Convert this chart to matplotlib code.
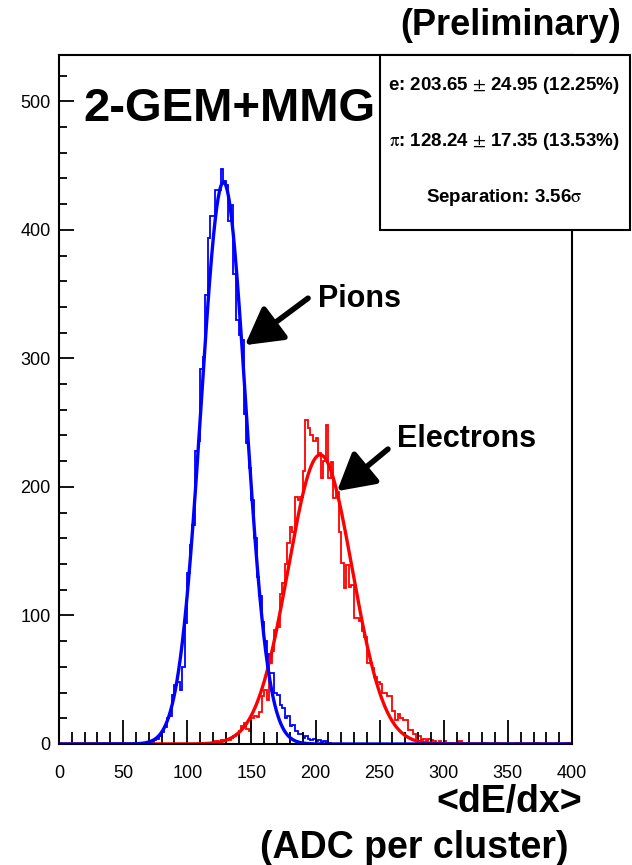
import numpy as np
import matplotlib
matplotlib.use("Agg")
import matplotlib.pyplot as plt
from matplotlib.patches import Rectangle
from matplotlib.ticker import MultipleLocator

plt.rcParams["font.family"] = ["Liberation Sans", "DejaVu Sans"]
plt.rcParams["mathtext.fontset"] = "stix"

# histogram binning (ADC per cluster), 2 units per bin
bin_width = 2
x_max = 400

# pion histogram: counts per bin starting at 60
pion_start = 60
pion_counts = [0, 0, 1, 0, 1, 2, 1, 3, 4, 6, 9, 13, 20, 22, 38, 46, 48, 42, 60, 94,
               133, 155, 170, 228, 236, 292, 301, 349, 394, 411, 411, 431, 431, 447, 438,
               435, 407, 419, 366, 330, 318, 314, 257, 234, 215, 190, 160, 130, 115, 95,
               80, 70, 55, 55, 40, 38, 30, 28, 20, 22, 14, 15, 10, 8, 8, 5, 6, 4, 3, 4,
               2, 3, 1, 2, 0, 1]

# electron histogram: counts per bin starting at 110
electron_start = 110
electron_counts = [0, 1, 0, 1, 1, 1, 2, 1, 3, 2, 4, 3, 5, 6, 8, 10, 14, 16, 12, 10,
                   20, 22, 21, 25, 37, 42, 34, 63, 72, 89, 91, 117, 125, 140, 156, 169, 165,
                   192, 190, 192, 212, 252, 246, 240, 236, 238, 226, 207, 220, 248, 207, 219,
                   191, 196, 165, 141, 121, 139, 122, 124, 98, 98, 96, 88, 83, 63, 63, 59,
                   52, 48, 47, 40, 40, 37, 37, 26, 19, 23, 20, 19, 19, 11, 11, 8, 5, 6, 3,
                   4, 2, 4, 3, 2, 1, 2, 1, 2, 0, 0, 1, 0, 0, 2, 0, 0, 1]
electron_tail_bins = [330, 340, 356, 372, 388, 396]

# gaussian fit results
pion_amp, pion_mean, pion_sigma = 437, 128.24, 17.35
electron_amp, electron_mean, electron_sigma = 225, 203.65, 24.95

stats_lines = [r"e: 203.65 $\pm$ 24.95 (12.25%)",
               r"$\mathrm{\pi}$: 128.24 $\pm$ 17.35 (13.53%)",
               r"Separation: 3.56$\mathrm{\sigma}$"]

edges = np.arange(0, x_max + bin_width, bin_width)
pion_hist = np.zeros(len(edges) - 1)
i0 = pion_start // bin_width
pion_hist[i0:i0 + len(pion_counts)] = pion_counts
ele_hist = np.zeros(len(edges) - 1)
i0 = electron_start // bin_width
ele_hist[i0:i0 + len(electron_counts)] = electron_counts
for b in electron_tail_bins:
    ele_hist[b // bin_width] += 1

xf = np.linspace(0, x_max, 1601)
pion_fit = pion_amp * np.exp(-0.5 * ((xf - pion_mean) / pion_sigma) ** 2)
ele_fit = electron_amp * np.exp(-0.5 * ((xf - electron_mean) / electron_sigma) ** 2)

fig = plt.figure(figsize=(6.32, 8.65), dpi=100)
ax = fig.add_axes([59 / 632, 121 / 865, 513 / 632, 689 / 865])

ax.stairs(ele_hist, edges, color=(1, 0, 0), lw=1.3)
ax.plot(xf, ele_fit, color=(1, 0, 0), lw=2.4)
ax.stairs(pion_hist, edges, color=(0, 0, 1), lw=1.3)
ax.plot(xf, pion_fit, color=(0, 0, 1), lw=2.4)

ax.set_xlim(0, x_max)
ax.set_ylim(0, 536)
ax.xaxis.set_major_locator(MultipleLocator(50))
ax.xaxis.set_minor_locator(MultipleLocator(10))
ax.yaxis.set_major_locator(MultipleLocator(100))
ax.yaxis.set_minor_locator(MultipleLocator(20))
ax.tick_params(axis="x", which="major", direction="in", length=17, width=1.3, labelsize=13, pad=15)
ax.tick_params(axis="x", which="minor", direction="in", length=8.5, width=1.3)
ax.tick_params(axis="y", which="major", direction="in", length=11, width=1.3, labelsize=13, pad=6)
ax.tick_params(axis="y", which="minor", direction="in", length=5.5, width=1.3)
for s in ax.spines.values():
    s.set_linewidth(1.5)

# arrows and labels
arrow = dict(arrowstyle="-|>,head_length=0.8,head_width=0.45", lw=4, mutation_scale=28,
             color="black", shrinkA=0, shrinkB=0)
ax.annotate("", xy=(145.0, 310.3), xytext=(194.2, 346.8), arrowprops=arrow)
ax.annotate("", xy=(216.8, 196.7), xytext=(256.5, 229.4), arrowprops=arrow)
ax.text(202, 339.8, "Pions", fontsize=22, fontweight="bold", va="baseline", ha="left")
ax.text(263.5, 231, "Electrons", fontsize=22, fontweight="bold", va="baseline", ha="left")

fig.text(83 / 632, 1 - 121 / 865, "2-GEM+MMG", fontsize=34, fontweight="bold", va="baseline", ha="left")
fig.text(621 / 632, 1 - 35 / 865, "(Preliminary)", fontsize=26, fontweight="bold", va="baseline", ha="right")
fig.text(582 / 632, 1 - 812 / 865, "<dE/dx>", fontsize=27, fontweight="bold", va="baseline", ha="right")
fig.text(568 / 632, 1 - 858 / 865, "(ADC per cluster)", fontsize=27, fontweight="bold", va="baseline", ha="right")

# stats box
box = Rectangle((380 / 632, 1 - 230 / 865), 250 / 632, 175 / 865, transform=fig.transFigure,
                facecolor="white", edgecolor="black", lw=1.5, zorder=5)
fig.patches.append(box)
for k, yy in enumerate([86, 142, 197]):
    fig.text(504 / 632, 1 - yy / 865, stats_lines[k], fontsize=13.5, fontweight="bold",
             ha="center", va="center", zorder=6)

fig.savefig("out.png", dpi=100)
